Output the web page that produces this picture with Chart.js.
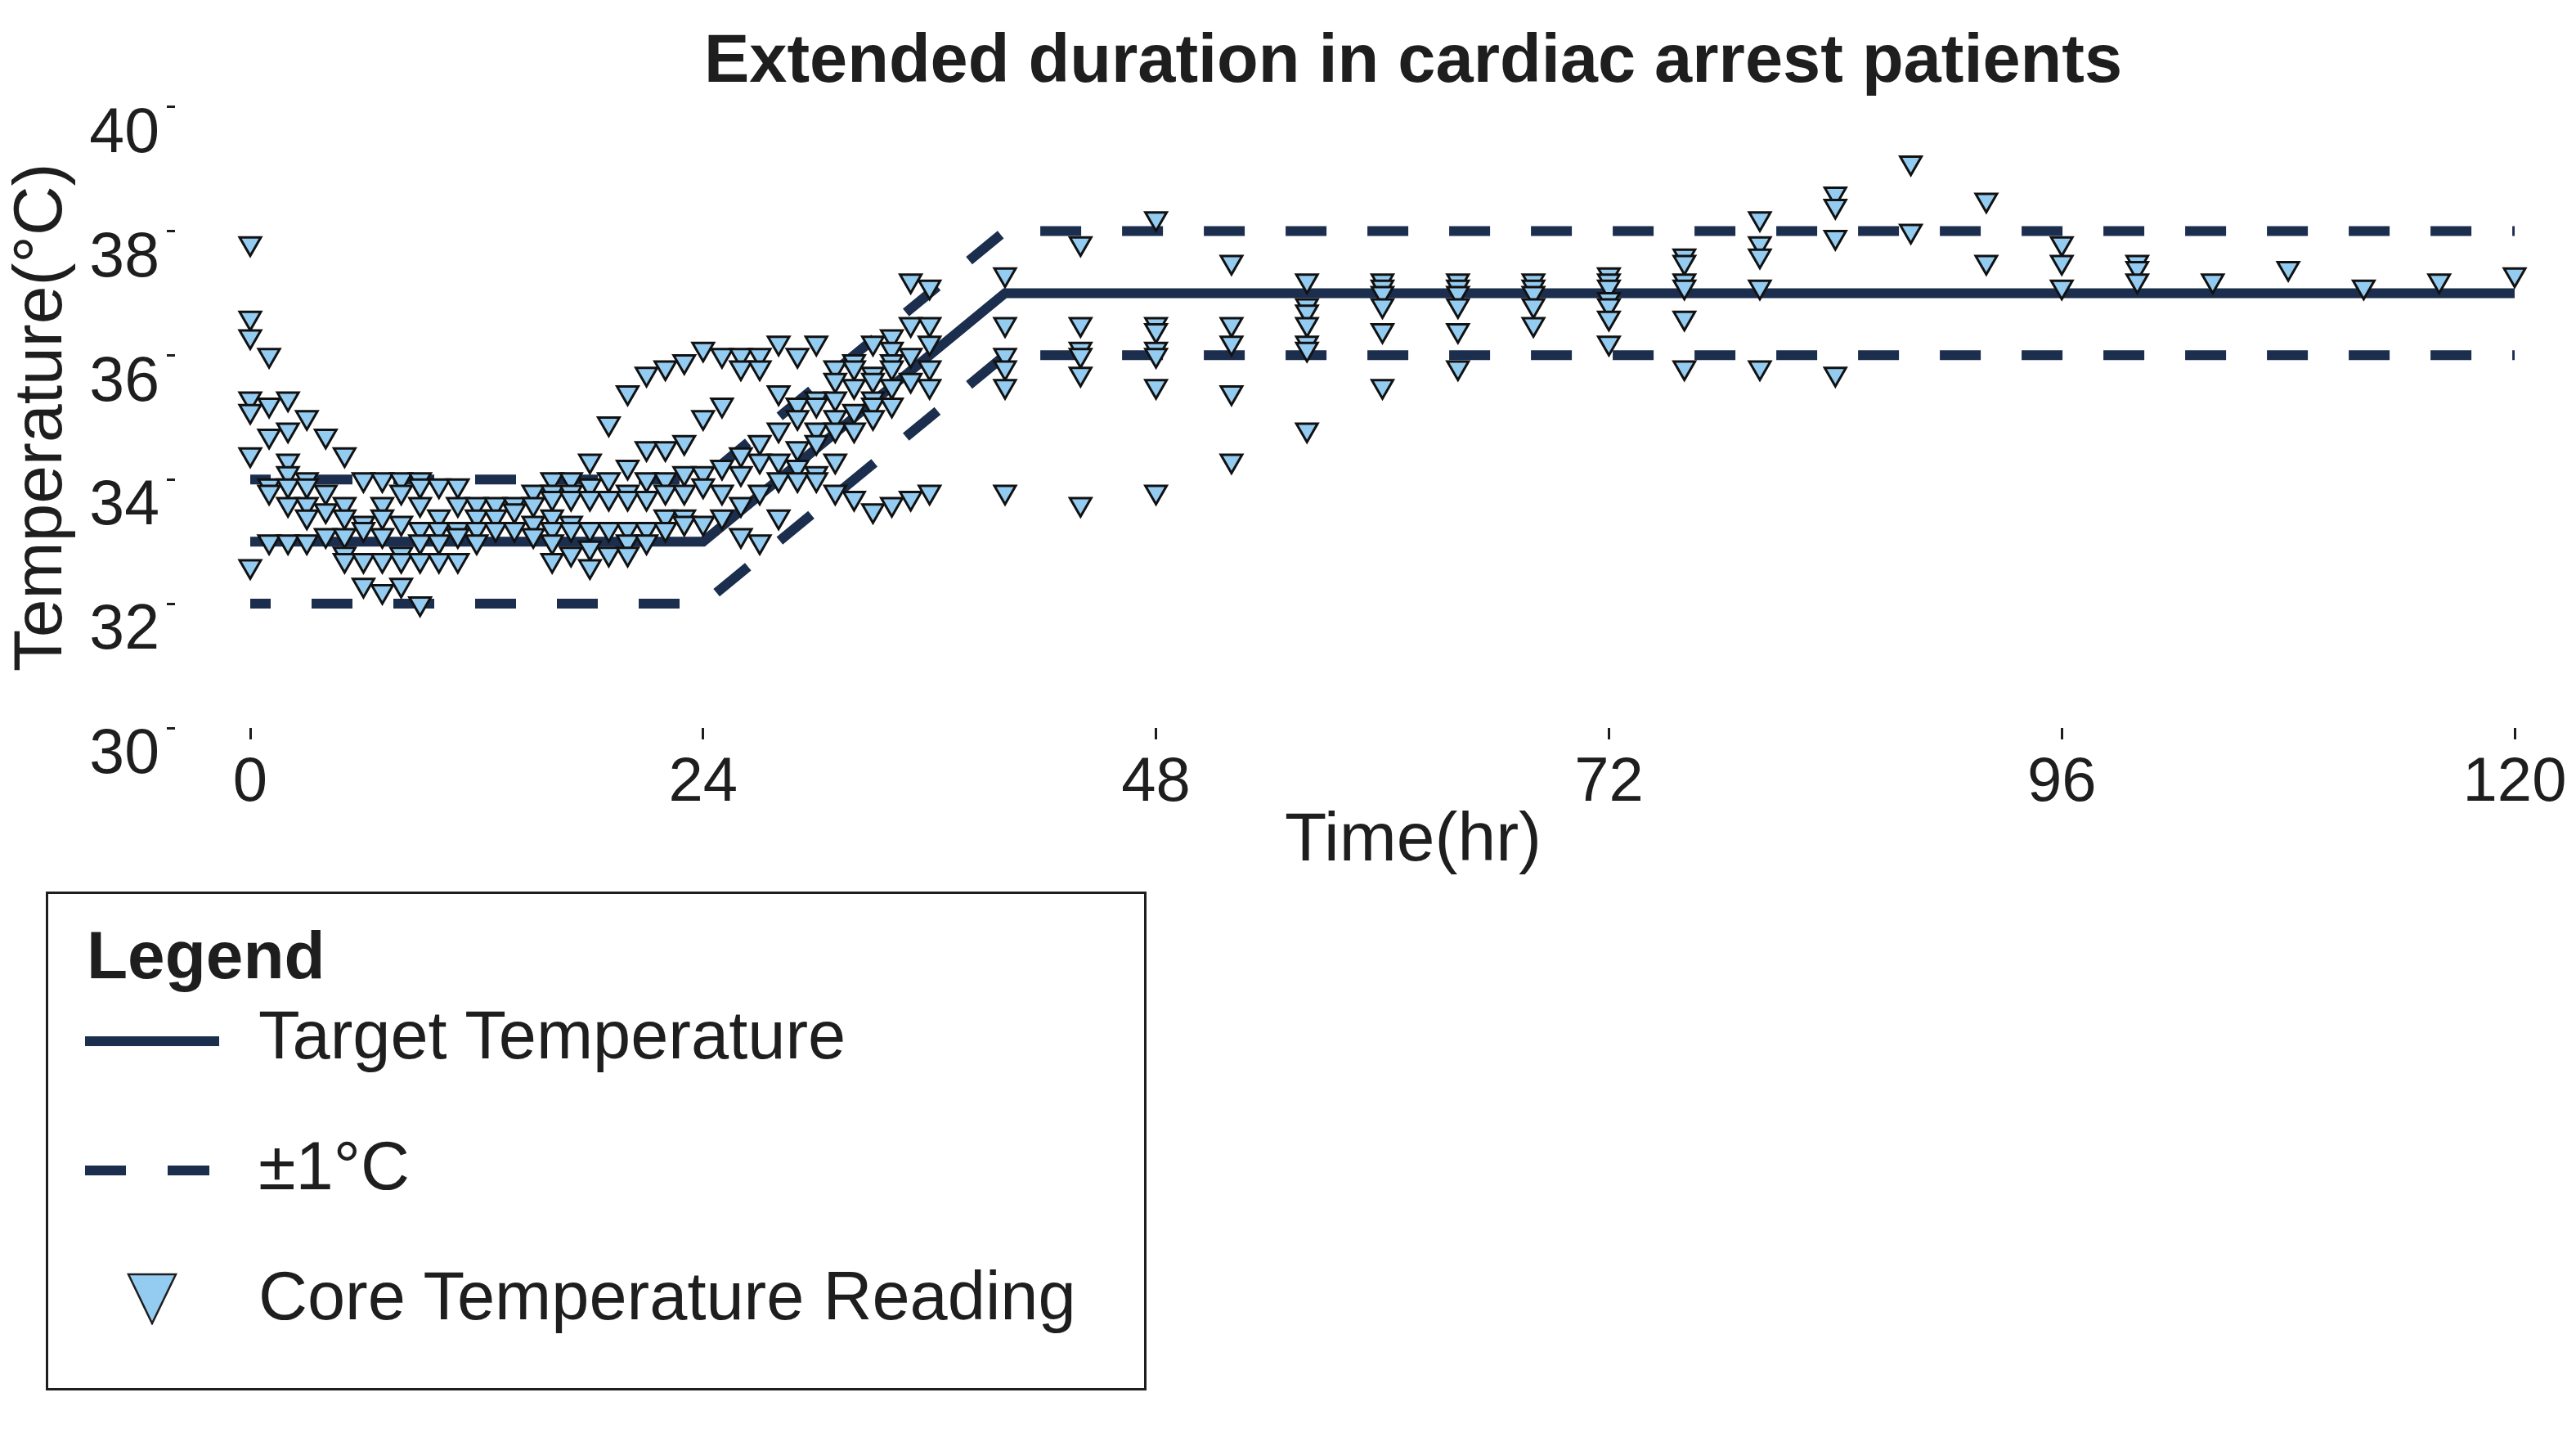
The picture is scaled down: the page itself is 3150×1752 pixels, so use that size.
<!DOCTYPE html>
<html>
<head>
<meta charset="utf-8">
<title>Extended duration in cardiac arrest patients</title>
<script src="https://cdn.jsdelivr.net/npm/chart.js@4.4.1/dist/chart.umd.min.js"></script>
<style>
    html, body { margin: 0; padding: 0; background: #fff; }
    #wrap { position: relative; width: 3150px; height: 1752px; overflow: hidden; font-family: "Liberation Sans", Arial, sans-serif; color: #1e1e1e; }
    #grafik { position: absolute; left: 0; top: 0; }
    .legend-box { position: absolute; left: 56px; top: 1090px; width: 1346px; height: 610px; border: 3px solid #1e1e1e; box-sizing: border-box; }
    .legend-text { position: absolute; font-size: 83px; line-height: 83px; white-space: nowrap; }
    .legend-title { position: absolute; font-size: 82px; line-height: 82px; font-weight: bold; white-space: nowrap; }
    .swatch { position: absolute; height: 12px; background: #1c2e4e; }
    .marker { position: absolute; }
</style>
</head>
<body>
<div id="wrap">
    <canvas id="grafik" width="3150" height="1752"></canvas>
    <div class="legend-box"></div>
    <div class="legend-title" style="left:106px; top:1127px;">Legend</div>
    <div class="swatch" style="left:104px; top:1267px; width:164px;"></div>
    <div class="legend-text" style="left:316px; top:1224px;">Target Temperature</div>
    <div class="swatch" style="left:104px; top:1425px; width:50px;"></div>
    <div class="swatch" style="left:205px; top:1425px; width:51px;"></div>
    <div class="legend-text" style="left:316px; top:1384px;">±1°C</div>
    <svg class="marker" style="left:155px; top:1556px;" width="62" height="64" viewBox="0 0 62 64">
        <polygon points="2,2 60,2 31,62" fill="#94cbf0" stroke="#1e1e1e" stroke-width="2.5" stroke-linejoin="miter"></polygon>
    </svg>
    <div class="legend-text" style="left:316px; top:1543px;">Core Temperature Reading</div>
</div>
<script>
// target protocol (hours, degC)
const targetHours = [0, 24, 40, 120];
const targetTemps = [33, 33, 37, 37];
const upperTemps = [34, 34, 38, 38];
const lowerTemps = [32, 32, 36, 36];

const xTicks = [0, 24, 48, 72, 96, 120];
const yTicks = [30, 32, 34, 36, 38, 40];

// core temperature readings, grouped by sample hour
const sampleHours = [
    0, 1, 2, 3, 4, 5, 6, 7, 8, 9, 10, 11, 12, 13, 14, 15, 16, 17, 18,
    19, 20, 21, 22, 23, 24, 25, 26, 27, 28, 29, 30, 31, 32, 33, 34, 35, 36,
    40, 44, 48, 52, 56, 60, 64, 68, 72, 76, 80, 84, 88, 92, 96, 100,
    104, 108, 112, 116, 120
];
const coreTemps = [
    [37.8, 36.6, 36.3, 35.3, 35.1, 34.4, 32.6],
    [36.0, 35.2, 34.7, 33.9, 33.8, 33.0],
    [35.3, 34.8, 34.3, 34.1, 33.9, 33.6, 33.0],
    [35.0, 34.0, 33.9, 33.6, 33.4, 33.0],
    [34.7, 33.8, 33.5, 33.1],
    [34.4, 33.6, 33.4, 33.1, 32.8, 32.7],
    [34.0, 33.3, 33.2, 32.7, 32.3],
    [34.0, 33.6, 33.4, 33.1, 32.7, 32.2],
    [34.0, 33.8, 33.3, 32.8, 32.7, 32.3],
    [34.0, 33.9, 33.6, 33.2, 33.0, 32.7, 32.0],
    [33.9, 33.4, 33.2, 33.0, 32.7],
    [33.9, 33.6, 33.2, 33.1, 32.7],
    [33.6, 33.4, 33.2, 33.0],
    [33.6, 33.4, 33.2],
    [33.6, 33.5, 33.2],
    [33.8, 33.6, 33.3, 33.1],
    [34.0, 33.8, 33.7, 33.4, 33.2, 33.0, 32.7],
    [34.0, 33.8, 33.7, 33.3, 33.2, 32.8],
    [34.3, 33.9, 33.7, 33.2, 32.9, 32.6],
    [34.9, 34.0, 33.7, 33.2, 32.8],
    [35.4, 34.2, 33.8, 33.7, 33.2, 33.0, 32.8],
    [35.7, 34.5, 34.0, 33.7, 33.2, 33.0],
    [35.8, 34.5, 34.0, 33.8, 33.4, 33.2],
    [35.9, 34.6, 34.1, 33.8, 33.4, 33.3],
    [36.1, 35.0, 34.1, 33.9, 33.3],
    [36.0, 35.2, 34.2, 33.8, 33.4],
    [36.0, 35.8, 34.4, 34.1, 33.6, 33.1],
    [36.0, 35.8, 34.6, 34.3, 33.8, 33.0],
    [36.2, 35.4, 34.8, 34.3, 34.0, 33.4],
    [36.0, 35.2, 35.0, 34.5, 34.2, 34.0],
    [36.2, 35.3, 35.2, 34.8, 34.6, 34.1, 34.0],
    [35.8, 35.6, 35.3, 35.0, 34.8, 34.3, 33.8],
    [35.9, 35.8, 35.5, 35.1, 34.8, 33.7],
    [36.2, 35.7, 35.6, 35.3, 35.2, 35.0, 33.5],
    [36.3, 36.1, 35.9, 35.8, 35.5, 35.2, 33.6],
    [37.2, 36.5, 36.0, 35.6, 33.7],
    [37.1, 36.5, 36.2, 35.8, 35.5, 33.8],
    [37.3, 36.5, 36.0, 35.8, 35.5, 33.8],
    [37.8, 36.5, 36.1, 36.0, 35.7, 33.6],
    [38.2, 36.5, 36.4, 36.1, 36.0, 35.5, 33.8],
    [37.5, 36.5, 36.2, 35.4, 34.3],
    [37.2, 36.8, 36.7, 36.5, 36.2, 36.1, 34.8],
    [37.2, 37.1, 37.0, 36.8, 36.4, 35.5],
    [37.2, 37.1, 37.0, 36.8, 36.4, 35.8],
    [37.2, 37.1, 37.0, 36.8, 36.5],
    [37.3, 37.2, 37.1, 36.9, 36.8, 36.6, 36.2],
    [37.6, 37.5, 37.2, 37.1, 36.6, 35.8],
    [38.2, 37.8, 37.6, 37.1, 35.8],
    [38.6, 38.4, 37.9, 35.7],
    [39.1, 38.0],
    [38.5, 37.5],
    [37.8, 37.5, 37.1],
    [37.5, 37.4, 37.2],
    [37.2],
    [37.4],
    [37.1],
    [37.2],
    [37.3]
];

const NAVY = "#1c2e4e";
const INK = "#1e1e1e";
Chart.defaults.font.family = '"Liberation Sans", Arial, sans-serif';
Chart.defaults.color = INK;

function toPoints(xs, ys) {
    return xs.map((x, i) => ({ x: x, y: ys[i] }));
}

const readings = [];
sampleHours.forEach((h, i) => {
    coreTemps[i].forEach(t => readings.push({ x: h, y: t }));
});

function lineSet(label, data, dashed) {
    return {
        label: label,
        data: data,
        showLine: true,
        borderColor: NAVY,
        backgroundColor: NAVY,
        borderWidth: 12,
        borderDash: dashed ? [50, 50] : [],
        borderDashOffset: dashed ? 25 : 0,
        borderCapStyle: "butt",
        borderJoinStyle: "miter",
        pointRadius: 0,
        tension: 0,
        clip: false
    };
}

new Chart(document.getElementById("grafik"), {
    type: "scatter",
    data: {
        datasets: [
            {
                label: "Core Temperature Reading",
                data: readings,
                pointStyle: "triangle",
                rotation: 180,
                pointRadius: 15,
                backgroundColor: "#94cbf0",
                borderColor: "#111111",
                borderWidth: 3,
                showLine: false,
                clip: false
            },
            lineSet("Target Temperature", toPoints(targetHours, targetTemps), false),
            lineSet("±1°C", toPoints(targetHours, upperTemps), true),
            lineSet("±1°C low", toPoints(targetHours, lowerTemps), true)
        ]
    },
    options: {
        responsive: false,
        animation: false,
        devicePixelRatio: 1,
        layout: { autoPadding: false, padding: { left: 0, right: 0, top: 0, bottom: 673 } },
        plugins: {
            legend: { display: false },
            tooltip: { enabled: false },
            title: {
                display: true,
                text: "Extended duration in cardiac arrest patients",
                fullSize: false,
                color: INK,
                font: { size: 83, weight: "bold" },
                padding: { top: 27, bottom: 4 }
            }
        },
        scales: {
            x: {
                type: "linear",
                min: 0,
                max: 123.25,
                afterBuildTicks: s => { s.ticks = xTicks.map(v => ({ value: v })); },
                afterFit: s => { s.height = 189; },
                border: { display: false },
                grid: { drawOnChartArea: false, tickLength: 14, tickWidth: 3, tickColor: INK },
                ticks: { font: { size: 76 }, color: INK, padding: 8, maxRotation: 0 },
                title: { display: true, text: "Time(hr)", color: INK, font: { size: 84 }, padding: { top: 0, bottom: 0 } }
            },
            y: {
                type: "linear",
                min: 30,
                max: 40,
                afterBuildTicks: s => { s.ticks = yTicks.map(v => ({ value: v })); },
                afterFit: s => { s.width = 306; },
                border: { display: false },
                grid: {
                    drawOnChartArea: false,
                    tickLength: 102,
                    tickWidth: 3,
                    tickColor: INK,
                    tickBorderDash: [10, 400]
                },
                ticks: { font: { size: 77 }, color: INK, padding: 9, labelOffset: 34 },
                title: { display: true, text: "Temperature(°C)", color: INK, font: { size: 84 }, padding: { top: 1, bottom: 0 } }
            }
        }
    }
});
</script>
</body>
</html>
